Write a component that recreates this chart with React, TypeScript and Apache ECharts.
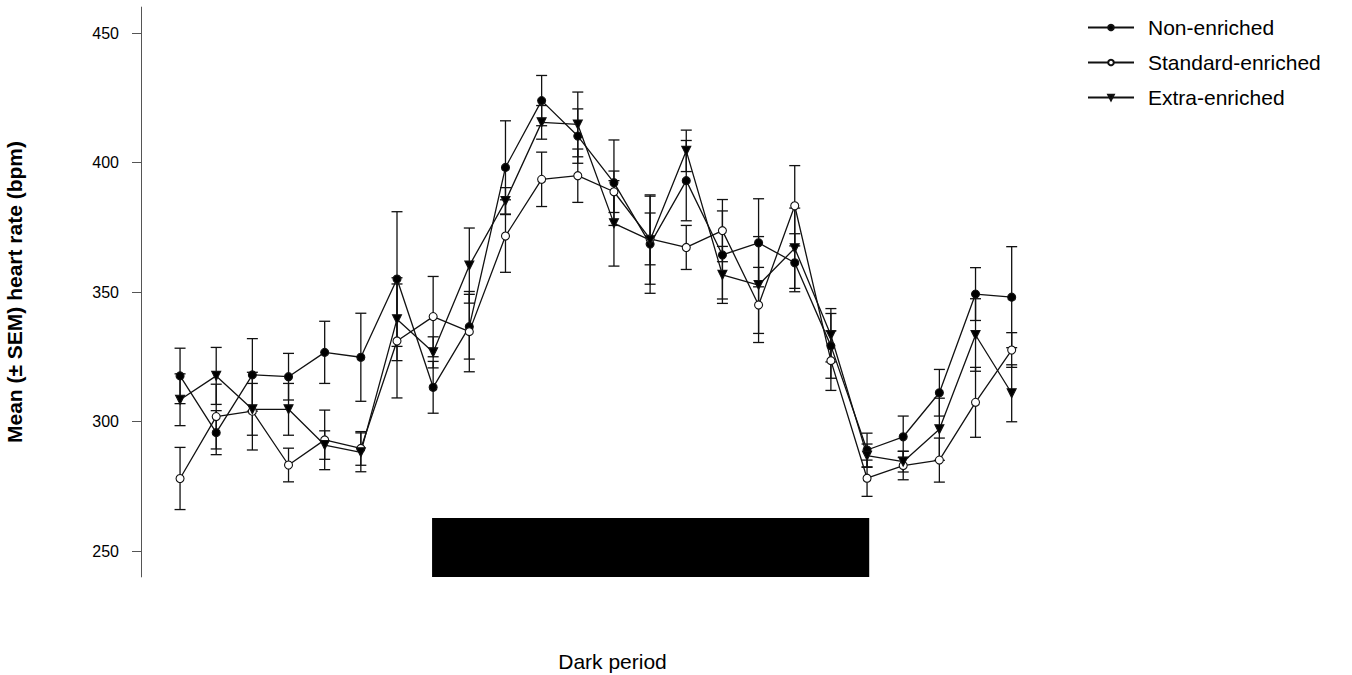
import React, { useEffect, useRef } from "react";
import * as echarts from "echarts";

const hours = Array.from({ length: 24 }, (_, i) => i);

const nonEnriched = [317.6, 295.7, 318, 317.3, 326.7, 324.8, 355, 313.2, 336.6, 398.1, 423.9, 410.2, 392.2, 368.5, 393, 364.3, 369, 361.3, 329.2, 289, 294.1, 311.1, 349.2, 348];
const nonEnrichedSem = [10.7, 8.5, 14, 9, 12, 17, 26, 10, 12.5, 18, 9.7, 10.5, 16.5, 19, 15.5, 17, 17, 11.2, 12.5, 6.5, 8, 9, 10.2, 19.5];

const standardEnriched = [278, 301.9, 304, 283.2, 292.9, 289.6, 331.1, 340.5, 334.7, 371.6, 393.5, 394.9, 388.7, 370.5, 367.2, 373.7, 345, 383.3, 323.5, 278.1, 283, 285.1, 307.4, 327.6];
const standardEnrichedSem = [12, 12.5, 15, 6.5, 11.5, 6.5, 22, 15.5, 15.5, 14, 10.5, 10.3, 8, 10, 8.5, 12, 14.5, 15.5, 11.5, 7, 5.5, 8.5, 13.5, 6.7];

const extraEnriched = [308.4, 317.6, 304.7, 304.7, 290.9, 288.1, 339.5, 326.7, 360.2, 385.1, 415.5, 414.7, 376.5, 370, 404.5, 356.6, 352.7, 366.9, 333.3, 286.8, 284.5, 297, 333.4, 310.9];
const extraEnrichedSem = [10, 11, 10, 10, 5.5, 7.5, 16, 6, 14.5, 5.2, 6.5, 12.5, 16.5, 17, 8, 11, 18.7, 15.5, 10.3, 4.5, 4, 12, 14, 11];

const yTicks = [250, 300, 350, 400, 450];
// dark period bar: [xStart, xEnd, yBottom, yTop]
const darkPeriod = [6.97, 19.06, 240, 262.7];

const FONT = "'Liberation Sans', Arial, Helvetica, sans-serif";

function errData(vals: number[], sem: number[]) {
  return vals.map((v, i) => [hours[i], v - sem[i], v + sem[i]]);
}

function errorSeries(name: string, vals: number[], sem: number[]) {
  return {
    type: "custom",
    name,
    z: 1,
    silent: true,
    data: errData(vals, sem),
    encode: { x: 0, y: [1, 2] },
    renderItem: (params: any, api: any) => {
      const x = api.value(0);
      const lo = api.value(1);
      const hi = api.value(2);
      const pHi = api.coord([x, hi]);
      const pLo = api.coord([x, lo]);
      const hw = 5.5;
      const style = { stroke: "#111", lineWidth: 1.3 };
      return {
        type: "group",
        children: [
          { type: "line", shape: { x1: pHi[0], y1: pHi[1], x2: pLo[0], y2: pLo[1] }, style },
          { type: "line", shape: { x1: pHi[0] - hw, y1: pHi[1], x2: pHi[0] + hw, y2: pHi[1] }, style },
          { type: "line", shape: { x1: pLo[0] - hw, y1: pLo[1], x2: pLo[0] + hw, y2: pLo[1] }, style },
        ],
      };
    },
  };
}

function lineSeries(name: string, vals: number[], symbol: string, fill: string, rotate = 0, size = 8) {
  return {
    type: "line",
    name,
    z: 3,
    data: vals.map((v, i) => [hours[i], v]),
    symbol,
    symbolSize: size,
    symbolRotate: rotate,
    showAllSymbol: true,
    lineStyle: { color: "#111", width: 1.3 },
    itemStyle: { color: fill, borderColor: "#111", borderWidth: 1.1 },
    emphasis: { disabled: true },
  };
}

export default function App() {
  const ref = useRef<HTMLDivElement>(null);
  useEffect(() => {
    if (!ref.current) return;
    const chart = echarts.init(ref.current, undefined, { renderer: "svg" });
    chart.setOption({
      animation: false,
      backgroundColor: "#fff",
      textStyle: { fontFamily: FONT },
      grid: { left: 141, right: 268, top: 7.1, bottom: 98.1, containLabel: false, outerBoundsMode: "none" },
      legend: {
        orient: "vertical",
        left: 1087,
        top: 17,
        padding: 0,
        itemWidth: 46,
        itemHeight: 7,
        itemGap: 14,
        data: ["Non-enriched", "Standard-enriched", "Extra-enriched"],
        textStyle: { fontSize: 21, color: "#000", fontFamily: FONT, padding: [0, 0, 0, 9] },
      },
      xAxis: {
        type: "value",
        min: -1.08,
        max: 25,
        axisLine: { show: false },
        axisTick: { show: false },
        axisLabel: { show: false },
        splitLine: { show: false },
        name: "Dark period",
        nameLocation: "middle",
        nameGap: 74,
        nameTextStyle: { fontSize: 21, color: "#000", fontFamily: FONT },
      },
      yAxis: {
        type: "value",
        min: 240,
        max: 460,
        axisLine: { show: true, onZero: false, lineStyle: { color: "#555", width: 1 } },
        axisTick: { show: true, length: 9, customValues: yTicks, lineStyle: { color: "#555" } },
        axisLabel: { customValues: yTicks, fontSize: 16, color: "#000", margin: 22, fontFamily: FONT },
        splitLine: { show: false },
        name: "Mean (± SEM) heart rate (bpm)",
        nameLocation: "middle",
        nameGap: 116,
        nameTextStyle: { fontSize: 21, fontWeight: "bold", color: "#000", fontFamily: FONT },
      },
      series: [
        {
          type: "custom",
          name: "dark",
          z: 0,
          silent: true,
          data: [darkPeriod],
          renderItem: (params: any, api: any) => {
            const p0 = api.coord([api.value(0), api.value(3)]);
            const p1 = api.coord([api.value(1), api.value(2)]);
            return {
              type: "rect",
              shape: { x: p0[0], y: p0[1], width: p1[0] - p0[0], height: p1[1] - p0[1] },
              style: { fill: "#000" },
            };
          },
        },
        errorSeries("errN", nonEnriched, nonEnrichedSem),
        errorSeries("errS", standardEnriched, standardEnrichedSem),
        errorSeries("errE", extraEnriched, extraEnrichedSem),
        lineSeries("Non-enriched", nonEnriched, "circle", "#000"),
        lineSeries("Standard-enriched", standardEnriched, "circle", "#fff"),
        lineSeries("Extra-enriched", extraEnriched, "triangle", "#000", 180, 9),
      ],
    });
    return () => chart.dispose();
  }, []);
  return <div ref={ref} style={{ position: "fixed", left: 0, top: 0, width: 1352, height: 675 }} />;
}
